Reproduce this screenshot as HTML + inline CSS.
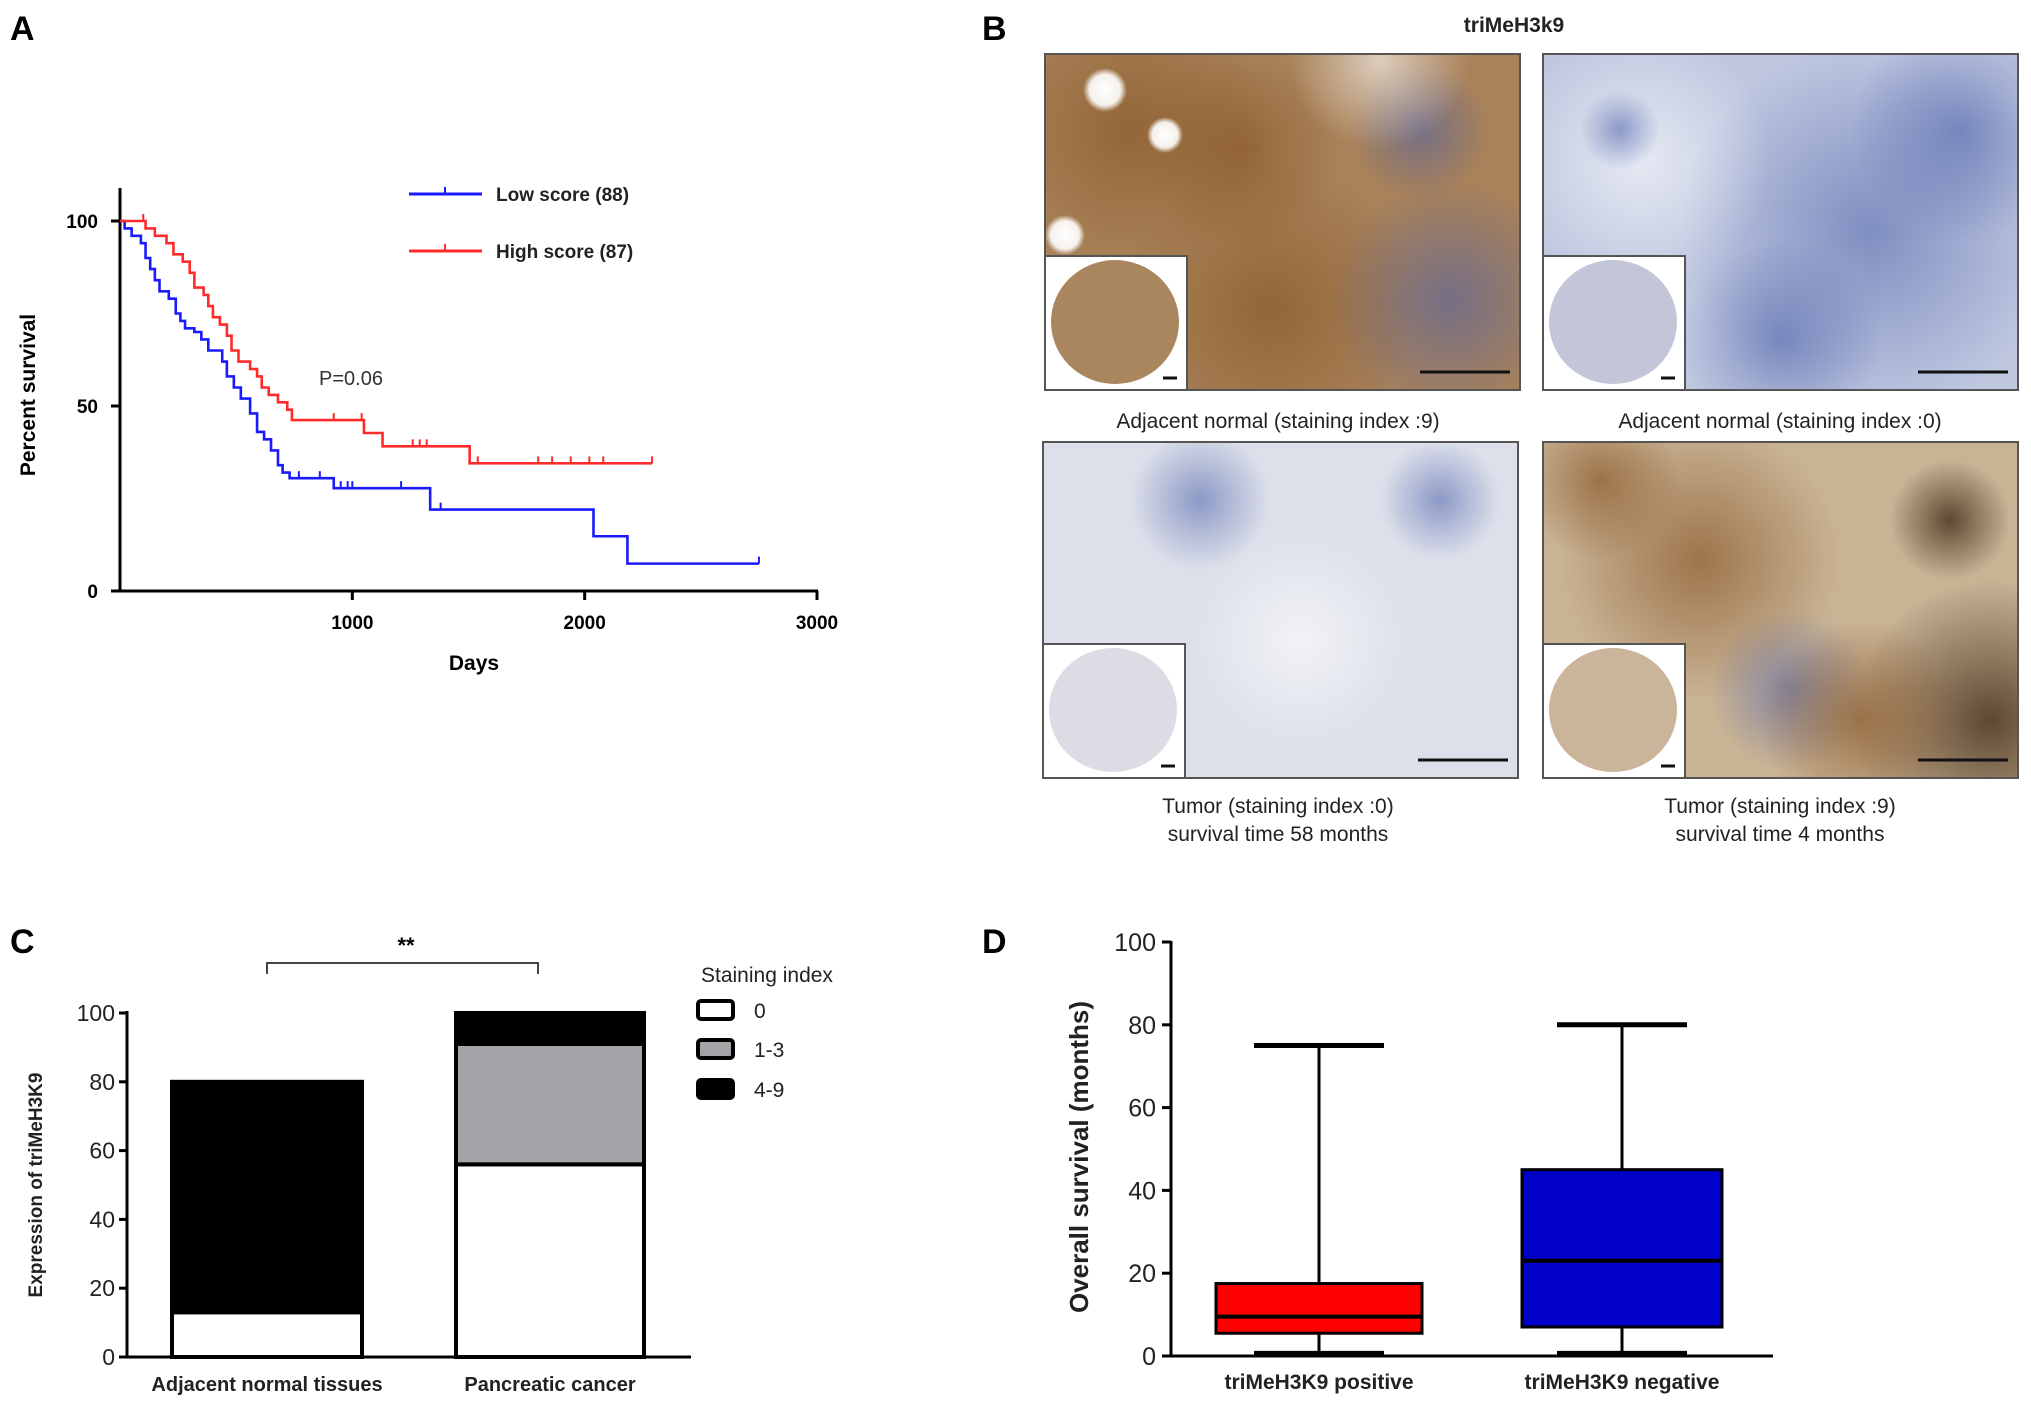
<!DOCTYPE html>
<html><head><meta charset="utf-8"><style>
html,body{margin:0;padding:0;background:#fff}
svg{display:block;font-family:"Liberation Sans",Arial,sans-serif}
</style></head><body>
<svg id="fig" width="2031" height="1408" viewBox="0 0 2031 1408" xmlns="http://www.w3.org/2000/svg">
<defs>
<radialGradient id="brownBlob" cx="50%" cy="50%" r="50%"><stop offset="0" stop-color="#8a5a2a" stop-opacity="0.7"/><stop offset="1" stop-color="#8a5a2a" stop-opacity="0"/></radialGradient>
<radialGradient id="blueBlob" cx="50%" cy="50%" r="50%"><stop offset="0" stop-color="#4a5fa8" stop-opacity="0.55"/><stop offset="1" stop-color="#4a5fa8" stop-opacity="0"/></radialGradient>
<radialGradient id="darkBlob" cx="50%" cy="50%" r="50%"><stop offset="0" stop-color="#3a2410" stop-opacity="0.75"/><stop offset="1" stop-color="#3a2410" stop-opacity="0"/></radialGradient>
<radialGradient id="whiteBlob" cx="50%" cy="50%" r="50%"><stop offset="0" stop-color="#ffffff" stop-opacity="1"/><stop offset="0.7" stop-color="#ffffff" stop-opacity="0.9"/><stop offset="1" stop-color="#ffffff" stop-opacity="0"/></radialGradient>
<radialGradient id="paleBlob" cx="50%" cy="50%" r="50%"><stop offset="0" stop-color="#ffffff" stop-opacity="0.6"/><stop offset="1" stop-color="#ffffff" stop-opacity="0"/></radialGradient>
</defs>

<text x="10" y="40" font-size="34" font-weight="bold">A</text>
<text x="982" y="40" font-size="34" font-weight="bold">B</text>
<text x="10" y="953" font-size="34" font-weight="bold">C</text>
<text x="982" y="953" font-size="34" font-weight="bold">D</text>

<g id="panelA"></g>
<g id="panelB"></g>
<g id="panelC"></g>
<g id="panelD"></g>
</svg>
<script>
// ---------- Panel A data ----------
const kmXTicks = [1000, 2000, 3000];
const kmYTicks = [0, 50, 100];
const lowDays = [0, 20, 50, 90, 110, 130, 150, 170, 210, 240, 260, 280, 320, 350, 380, 440, 460, 490, 520, 560, 590, 620, 650, 680, 700, 730, 920, 1335, 2038, 2184, 2750];
const lowPct  = [100, 98, 96, 94, 90, 87, 84, 81, 79, 75, 73, 71, 70, 68, 65, 62, 58, 55, 52, 48, 43, 41, 38, 34, 32, 30.5, 27.8, 22, 14.8, 7.4, 7.4];
const lowCensor = [770, 860, 950, 980, 1000, 1210, 1380, 2750];
const highDays = [0, 110, 150, 200, 230, 270, 300, 320, 360, 380, 400, 430, 460, 480, 510, 560, 590, 610, 640, 680, 720, 740, 1050, 1130, 1505, 2290];
const highPct  = [100, 98, 96, 94, 91, 89, 86, 82, 80, 77, 74, 72, 69, 65, 62, 60, 58, 55, 53, 51, 49, 46.2, 42.7, 39.1, 34.5, 34.5];
const highCensor = [100, 920, 1040, 1260, 1290, 1320, 1540, 1800, 1860, 1940, 2020, 2080, 2290];

// ---------- Panel C data ----------
const stackCats = ["Adjacent normal tissues", "Pancreatic cancer"];
const stack0 = [13, 56];
const stack13 = [0, 35];
const stack49 = [67, 9];
const stackYTicks = [0, 20, 40, 60, 80, 100];

// ---------- Panel D data ----------
const boxCats = ["triMeH3K9 positive", "triMeH3K9 negative"];
const boxMin = [0.5, 0.5];
const boxQ1 = [5.5, 7];
const boxMed = [9.5, 23];
const boxQ3 = [17.5, 45];
const boxMax = [75, 80];
const boxYTicks = [0, 20, 40, 60, 80, 100];

const NS = "http://www.w3.org/2000/svg";
function mk(parent, tag, attrs, text) {
  const e = document.createElementNS(NS, tag);
  for (const k in attrs) e.setAttribute(k, attrs[k]);
  if (text !== undefined) e.textContent = text;
  parent.appendChild(e);
  return e;
}

// ===== Panel A =====
(function(){
  const g = document.getElementById('panelA');
  const x0 = 120, x1 = 817, y0 = 591, y1 = 221;
  const xs = d => x0 + d / 3000 * (x1 - x0);
  const ys = p => y0 - p / 100 * (y0 - y1);
  let e = mk(g, 'line', {x1: x0, y1: 188, x2: x0, y2: y0 + 1, stroke: '#000', 'stroke-width': 3});
  
  
  e = mk(g, 'line', {x1: 111, y1: y0, x2: x1 + 1, y2: y0, stroke: '#000', 'stroke-width': 3});
  
  
  kmYTicks.forEach(v => {
    mk(g, 'line', {x1: 111, y1: ys(v), x2: x0, y2: ys(v), stroke: '#000', 'stroke-width': 3});
    const t = mk(g, 'text', {x: 98, y: ys(v) + 7, 'font-size': 19, 'font-weight': 'bold', 'text-anchor': 'end'}, String(v));
    
    
  });
  kmXTicks.forEach(v => {
    mk(g, 'line', {x1: xs(v), y1: y0, x2: xs(v), y2: y0 + 9, stroke: '#000', 'stroke-width': 3});
    const t = mk(g, 'text', {x: xs(v), y: 629, 'font-size': 19, 'font-weight': 'bold', 'text-anchor': 'middle'}, String(v));
    
    
  });
  e = mk(g, 'text', {x: 474, y: 670, 'font-size': 21, 'font-weight': 'bold', 'text-anchor': 'middle'}, 'Days');
  
  
  e = mk(g, 'text', {x: 0, y: 0, 'font-size': 21, 'font-weight': 'bold', 'text-anchor': 'middle', transform: 'translate(35,395) rotate(-90)'}, 'Percent survival');
  
  

  function step(days, pct, censor, color, name) {
    let d = 'M' + xs(days[0]) + ',' + ys(pct[0]);
    for (let i = 1; i < days.length; i++) {
      d += ' H' + xs(days[i]) + ' V' + ys(pct[i]);
    }
    const p = mk(g, 'path', {d: d, fill: 'none', stroke: color, 'stroke-width': 2.6});
    
    
    censor.forEach(c => {
      let k = 0;
      for (let i = 0; i < days.length; i++) if (days[i] <= c) k = i;
      const cy = ys(pct[k]);
      const m = mk(g, 'line', {x1: xs(c), y1: cy - 7, x2: xs(c), y2: cy, stroke: color, 'stroke-width': 2});
      
      
    });
  }
  step(lowDays, lowPct, lowCensor, '#1a1aff', 'low-score');
  step(highDays, highPct, highCensor, '#ff2a2a', 'high-score');

  const legend = [['Low score (88)', '#1a1aff', 194], ['High score (87)', '#ff2a2a', 251]];
  legend.forEach(([lab, col, y]) => {
    const lg = mk(g, 'g', {});
    
    
    mk(lg, 'line', {x1: 409, y1: y, x2: 482, y2: y, stroke: col, 'stroke-width': 3});
    mk(lg, 'line', {x1: 445, y1: y - 7, x2: 445, y2: y, stroke: col, 'stroke-width': 2});
    mk(lg, 'text', {x: 496, y: y + 7, 'font-size': 19, 'font-weight': 'bold', fill: '#222'}, lab);
  });
  e = mk(g, 'text', {x: 319, y: 385, 'font-size': 20, fill: '#333'}, 'P=0.06');
  
  
})();

// ===== Panel B =====
(function(){
  const g = document.getElementById('panelB');
  let t = mk(g, 'text', {x: 1514, y: 32, 'font-size': 21, 'font-weight': 'bold', 'text-anchor': 'middle', fill: '#222'}, 'triMeH3k9');
  
  
  const imgs = [
    {x: 1045, y: 54, base: '#a98259', blobs: [['brownBlob',1130,130,140],['brownBlob',1270,310,150],['brownBlob',1240,150,100],['blueBlob',1450,300,120],['blueBlob',1420,130,70],['paleBlob',1380,60,90],['whiteBlob',1105,90,22],['whiteBlob',1165,135,18],['whiteBlob',1065,235,20]], inset: '#a9865e', name: 'normal-index-9-image'},
    {x: 1543, y: 54, base: '#c0c8e0', blobs: [['blueBlob',1870,230,190],['blueBlob',1960,130,110],['blueBlob',1780,340,100],['paleBlob',1640,160,130],['blueBlob',1620,130,40]], inset: '#c2c6d8', name: 'normal-index-0-image'},
    {x: 1043, y: 442, base: '#dde0ea', blobs: [['blueBlob',1200,500,70],['paleBlob',1300,640,110],['blueBlob',1440,500,60]], inset: '#dcdde4', name: 'tumor-index-0-image'},
    {x: 1543, y: 442, base: '#c9b395', blobs: [['brownBlob',1700,560,140],['brownBlob',1600,480,80],['darkBlob',1990,720,140],['darkBlob',1950,520,60],['blueBlob',1790,690,80],['brownBlob',1860,720,100]], inset: '#cbb59a', name: 'tumor-index-9-image'}
  ];
  imgs.forEach(im => {
    const gg = mk(g, 'g', {});
    
    
    const w = 475, h = 336;
    const cid = 'clip' + im.x + im.y;
    const cp = mk(gg, 'clipPath', {id: cid});
    mk(cp, 'rect', {x: im.x, y: im.y, width: w, height: h});
    const inner = mk(gg, 'g', {'clip-path': 'url(#' + cid + ')'});
    mk(inner, 'rect', {x: im.x, y: im.y, width: w, height: h, fill: im.base});
    im.blobs.forEach(b => mk(inner, 'circle', {cx: b[1], cy: b[2], r: b[3], fill: 'url(#' + b[0] + ')'}));
    mk(gg, 'rect', {x: im.x, y: im.y, width: w, height: h, fill: 'none', stroke: '#555', 'stroke-width': 2});
    mk(gg, 'line', {x1: im.x + w - 100, y1: im.y + h - 18, x2: im.x + w - 10, y2: im.y + h - 18, stroke: '#111', 'stroke-width': 3});
    const ix = im.x, iy = im.y + h - 134;
    const ins = mk(gg, 'g', {});
    
    
    mk(ins, 'rect', {x: ix, y: iy, width: 142, height: 134, fill: '#fff', stroke: '#555', 'stroke-width': 2});
    mk(ins, 'ellipse', {cx: ix + 70, cy: iy + 66, rx: 64, ry: 62, fill: im.inset});
    mk(ins, 'line', {x1: ix + 118, y1: iy + 122, x2: ix + 132, y2: iy + 122, stroke: '#111', 'stroke-width': 3});
  });
  const caps = [
    [1278, 428, 'Adjacent normal (staining index :9)'],
    [1780, 428, 'Adjacent normal (staining index :0)'],
    [1278, 813, 'Tumor (staining index :0)'],
    [1278, 841, 'survival time 58 months'],
    [1780, 813, 'Tumor (staining index :9)'],
    [1780, 841, 'survival time 4 months']
  ];
  caps.forEach(c => {
    const e = mk(g, 'text', {x: c[0], y: c[1], 'font-size': 21, 'text-anchor': 'middle', fill: '#222'}, c[2]);
    
    
  });
})();

// ===== Panel C =====
(function(){
  const g = document.getElementById('panelC');
  const x0 = 127, y0 = 1357, y1 = 1013;
  const ys = v => y0 - v / 100 * (y0 - y1);
  const barX = [172, 456], barW = [190, 188];
  stackCats.forEach((c, i) => {
    const segs = [[0, stack0[i], '#ffffff', 'index-0'], [stack0[i], stack13[i], '#a3a3a8', 'index-1-3'], [stack0[i] + stack13[i], stack49[i], '#000000', 'index-4-9']];
    segs.forEach(s => {
      if (s[1] <= 0) return;
      const r = mk(g, 'rect', {x: barX[i], y: ys(s[0] + s[1]), width: barW[i], height: ys(s[0]) - ys(s[0] + s[1]), fill: s[2], stroke: '#000', 'stroke-width': 4});
      
      
    });
    const t = mk(g, 'text', {x: barX[i] + barW[i] / 2, y: 1391, 'font-size': 20, 'font-weight': 'bold', 'text-anchor': 'middle', fill: '#222'}, c);
    
    
  });
  let e = mk(g, 'line', {x1: x0, y1: ys(100) - 2, x2: x0, y2: y0, stroke: '#000', 'stroke-width': 3});
  
  
  e = mk(g, 'line', {x1: 120, y1: y0, x2: 691, y2: y0, stroke: '#000', 'stroke-width': 3});
  
  
  stackYTicks.forEach(v => {
    mk(g, 'line', {x1: 119, y1: ys(v), x2: x0, y2: ys(v), stroke: '#000', 'stroke-width': 3});
    const t = mk(g, 'text', {x: 115, y: ys(v) + 8, 'font-size': 23, 'text-anchor': 'end', fill: '#222'}, String(v));
    
    
  });
  e = mk(g, 'text', {x: 0, y: 0, 'font-size': 19, 'font-weight': 'bold', 'text-anchor': 'middle', transform: 'translate(42,1185) rotate(-90)', fill: '#222'}, 'Expression of triMeH3K9');
  
  
  e = mk(g, 'path', {d: 'M267,974 V963 H538 V974', fill: 'none', stroke: '#444', 'stroke-width': 2});
  
  
  e = mk(g, 'text', {x: 406, y: 953, 'font-size': 22, 'font-weight': 'bold', 'text-anchor': 'middle'}, '**');
  
  
  e = mk(g, 'text', {x: 701, y: 982, 'font-size': 21, fill: '#222'}, 'Staining index');
  
  
  [['0', '#fff', 1010], ['1-3', '#a3a3a8', 1049], ['4-9', '#000', 1089]].forEach(l => {
    const lg = mk(g, 'g', {});
    
    
    mk(lg, 'rect', {x: 698, y: l[2] - 9, width: 35, height: 18, rx: 3, fill: l[1], stroke: '#000', 'stroke-width': 4});
    mk(lg, 'text', {x: 754, y: l[2] + 8, 'font-size': 21, fill: '#222'}, l[0]);
  });
})();

// ===== Panel D =====
(function(){
  const g = document.getElementById('panelD');
  const x0 = 1171, y0 = 1356, y1 = 942;
  const ys = v => y0 - v / 100 * (y0 - y1);
  const cx = [1319, 1622], bw = [206, 200], cw = 130;
  const cols = ['#ff0000', '#0000c8'];
  boxCats.forEach((c, i) => {
    const bg = mk(g, 'g', {});
    
    
    mk(bg, 'line', {x1: cx[i], y1: ys(boxMax[i]), x2: cx[i], y2: ys(boxQ3[i]), stroke: '#000', 'stroke-width': 3});
    mk(bg, 'line', {x1: cx[i], y1: ys(boxQ1[i]), x2: cx[i], y2: ys(boxMin[i]), stroke: '#000', 'stroke-width': 3});
    mk(bg, 'line', {x1: cx[i] - cw / 2, y1: ys(boxMax[i]), x2: cx[i] + cw / 2, y2: ys(boxMax[i]), stroke: '#000', 'stroke-width': 5});
    mk(bg, 'line', {x1: cx[i] - cw / 2, y1: ys(boxMin[i]), x2: cx[i] + cw / 2, y2: ys(boxMin[i]), stroke: '#000', 'stroke-width': 6});
    mk(bg, 'rect', {x: cx[i] - bw[i] / 2, y: ys(boxQ3[i]), width: bw[i], height: ys(boxQ1[i]) - ys(boxQ3[i]), fill: cols[i], stroke: '#000', 'stroke-width': 3});
    mk(bg, 'line', {x1: cx[i] - bw[i] / 2, y1: ys(boxMed[i]), x2: cx[i] + bw[i] / 2, y2: ys(boxMed[i]), stroke: '#000', 'stroke-width': 4});
    const t = mk(g, 'text', {x: cx[i], y: 1389, 'font-size': 21, 'font-weight': 'bold', 'text-anchor': 'middle', fill: '#222'}, c);
    
    
  });
  let e = mk(g, 'line', {x1: x0, y1: y1 - 1, x2: x0, y2: y0, stroke: '#000', 'stroke-width': 3});
  
  
  e = mk(g, 'line', {x1: 1163, y1: y0, x2: 1773, y2: y0, stroke: '#000', 'stroke-width': 3});
  
  
  boxYTicks.forEach(v => {
    mk(g, 'line', {x1: 1162, y1: ys(v), x2: x0, y2: ys(v), stroke: '#000', 'stroke-width': 3});
    const t = mk(g, 'text', {x: 1156, y: ys(v) + 9, 'font-size': 25, 'text-anchor': 'end', fill: '#222'}, String(v));
    
    
  });
  e = mk(g, 'text', {x: 0, y: 0, 'font-size': 26, 'font-weight': 'bold', 'text-anchor': 'middle', transform: 'translate(1088,1157) rotate(-90)', fill: '#222'}, 'Overall survival (months)');
  
  
})();
</script>
</body></html>
